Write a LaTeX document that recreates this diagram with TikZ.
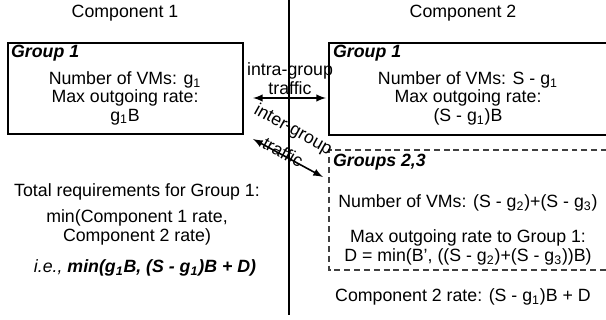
\documentclass[tikz,border=0pt]{standalone}
\usepackage{fontspec}
\setmainfont{Liberation Sans}
\usetikzlibrary{arrows}
\begin{document}
\begin{tikzpicture}[x=0.02cm,y=-0.02cm,font=\fontsize{10.1}{11.5}\selectfont]
\useasboundingbox (0,0) rectangle (606,320);

\draw [semithick] (289,0) -- (289,315);
\node (compA) at (125,13) {Component 1};
\node (compB) at (463,13) {Component 2};

% left box, component 1
\draw [semithick] (8,43) rectangle (243,134);
\node[anchor=west,inner sep=1pt] (grpA) at (9,53) {\textbf{\textit{Group 1}}};
\node (vmsA) at (125,80) {Number of VMs: g\textsubscript{1}};
\node (rateA) at (125,98) {Max outgoing rate:};
\node (valA) at (125,117) {g\textsubscript{1}B};

% right boxes, component 2
\draw [semithick] (607,43) -- (329,43) -- (329,135) -- (607,135);
\node[anchor=west,inner sep=1pt] (grpB) at (331,53) {\textbf{\textit{Group 1}}};
\node (vmsB) at (468,80) {Number of VMs: S - g\textsubscript{1}};
\node (rateB) at (468,98) {Max outgoing rate:};
\node (valB) at (468,117) {(S - g\textsubscript{1})B};

\draw [semithick,dashed,dash pattern=on 3.4pt off 2.2pt,black!75] (607,150) -- (329,150) -- (329,270) -- (607,270);
\node[anchor=west,inner sep=1pt] (grpC) at (331,162) {\textbf{\textit{Groups 2,3}}};
\node (vmsC) at (468,203) {Number of VMs: (S - g\textsubscript{2})+(S - g\textsubscript{3})};
\node (rateC) at (468,238) {Max outgoing rate to Group 1:};
\node (valC) at (468,257) {D = min(B’, ((S - g\textsubscript{2})+(S - g\textsubscript{3}))B)};
\node (totB) at (463,297) {Component 2 rate: (S - g\textsubscript{1})B + D};

% traffic arrows
\coordinate (intraL) at (253,98);
\coordinate (intraR) at (326,98);
\draw [line width=0.9pt,latex-latex] (intraL) -- (intraR);
\node[inner sep=0pt] (intraA) at (290,71) {intra-group};
\node[inner sep=0pt] (intraB) at (290,88) {traffic};
\coordinate (interL) at (253,139);
\coordinate (interR) at (323,177);
\draw [line width=0.9pt,latex-latex] (interL) -- (interR);
\node[rotate=-29,inner sep=0pt] (interA) at (293,130) {inter-group};
\node[rotate=-29,inner sep=0pt] (interB) at (283,152) {traffic};

% totals
\node (totA) at (137,192) {Total requirements for Group 1:};
\node (minA) at (137,218) {min(Component 1 rate,};
\node (minB) at (137,237) {Component 2 rate)};
\node (ieA) at (145,268) {\textit{i.e., \textbf{min(g\textsubscript{1}B, (S - g\textsubscript{1})B + D)}}};
\end{tikzpicture}
\end{document}
